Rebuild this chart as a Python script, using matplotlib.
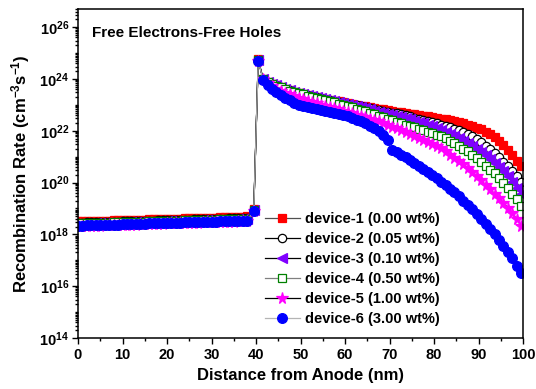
import numpy as np
import matplotlib
matplotlib.use('Agg')
import matplotlib.pyplot as plt
from matplotlib.ticker import FixedLocator, MultipleLocator, LogLocator, NullFormatter

plt.rcParams['font.family'] = ['Liberation Sans', 'DejaVu Sans']
plt.rcParams['font.weight'] = 'bold'
plt.rcParams['mathtext.fontset'] = 'custom'
plt.rcParams['mathtext.rm'] = 'Liberation Sans:bold'
plt.rcParams['mathtext.bf'] = 'Liberation Sans:bold'
plt.rcParams['mathtext.it'] = 'Liberation Sans:bold'
plt.rcParams['mathtext.default'] = 'regular'

labels = ['device-1 (0.00 wt%)', 'device-2 (0.05 wt%)', 'device-3 (0.10 wt%)',
          'device-4 (0.50 wt%)', 'device-5 (1.00 wt%)', 'device-6 (3.00 wt%)']

# distance grid (nm): flat part, the spike near the interface, then the decay
x_flat = np.arange(0, 39)
x_spike = [39.5, 40.5]
x_decay = np.arange(41.6, 100, 1.0)

# log10 of recombination rate
flat_d1 = [18.50, 18.50, 18.51, 18.51, 18.52, 18.52, 18.53, 18.53, 18.54, 18.54,
           18.55, 18.55, 18.56, 18.56, 18.57, 18.57, 18.58, 18.58, 18.59, 18.59,
           18.60, 18.60, 18.61, 18.61, 18.62, 18.62, 18.63, 18.63, 18.64, 18.64,
           18.65, 18.65, 18.66, 18.66, 18.67, 18.67, 18.68, 18.68, 18.69]
flat_d2 = [18.45, 18.45, 18.46, 18.46, 18.47, 18.47, 18.48, 18.48, 18.49, 18.49,
           18.50, 18.50, 18.51, 18.51, 18.52, 18.52, 18.53, 18.53, 18.54, 18.54,
           18.55, 18.55, 18.56, 18.56, 18.57, 18.57, 18.58, 18.58, 18.59, 18.59,
           18.60, 18.60, 18.61, 18.61, 18.62, 18.62, 18.63, 18.63, 18.64]
flat_d3 = [18.40, 18.40, 18.41, 18.41, 18.42, 18.42, 18.43, 18.43, 18.44, 18.44,
           18.45, 18.45, 18.46, 18.46, 18.47, 18.47, 18.48, 18.48, 18.49, 18.49,
           18.50, 18.50, 18.51, 18.51, 18.52, 18.52, 18.53, 18.53, 18.54, 18.54,
           18.55, 18.55, 18.56, 18.56, 18.57, 18.57, 18.58, 18.58, 18.59]
flat_d4 = [18.42, 18.42, 18.43, 18.43, 18.44, 18.44, 18.45, 18.45, 18.46, 18.46,
           18.47, 18.47, 18.48, 18.48, 18.49, 18.49, 18.50, 18.50, 18.51, 18.51,
           18.52, 18.52, 18.53, 18.53, 18.54, 18.54, 18.55, 18.55, 18.56, 18.56,
           18.57, 18.57, 18.58, 18.58, 18.59, 18.59, 18.60, 18.60, 18.61]
flat_d5 = [18.32, 18.32, 18.33, 18.33, 18.34, 18.34, 18.35, 18.35, 18.36, 18.36,
           18.37, 18.37, 18.38, 18.38, 18.39, 18.39, 18.40, 18.40, 18.41, 18.41,
           18.42, 18.42, 18.43, 18.43, 18.44, 18.44, 18.45, 18.45, 18.46, 18.46,
           18.47, 18.47, 18.48, 18.48, 18.49, 18.49, 18.50, 18.50, 18.51]
flat_d6 = [18.34, 18.34, 18.35, 18.35, 18.36, 18.36, 18.37, 18.37, 18.38, 18.38,
           18.39, 18.39, 18.40, 18.40, 18.41, 18.41, 18.42, 18.42, 18.43, 18.43,
           18.44, 18.44, 18.45, 18.45, 18.46, 18.46, 18.47, 18.47, 18.48, 18.48,
           18.49, 18.49, 18.50, 18.50, 18.51, 18.51, 18.52, 18.52, 18.53]

spike_d1 = [18.98, 24.76]
spike_d2 = [18.95, 24.73]
spike_d3 = [18.93, 24.72]
spike_d4 = [18.93, 24.72]
spike_d5 = [18.92, 24.71]
spike_d6 = [18.90, 24.70]

decay_d1 = [24.00, 23.90, 23.82, 23.75, 23.68, 23.62, 23.56, 23.51, 23.47, 23.43,
            23.39, 23.35, 23.31, 23.27, 23.23, 23.20, 23.16, 23.13, 23.10, 23.06,
            23.03, 23.00, 22.97, 22.94, 22.91, 22.88, 22.85, 22.82, 22.79, 22.76,
            22.74, 22.71, 22.68, 22.66, 22.63, 22.61, 22.58, 22.55, 22.53, 22.50,
            22.47, 22.44, 22.40, 22.36, 22.32, 22.28, 22.23, 22.18, 22.12, 22.05,
            21.96, 21.86, 21.74, 21.60, 21.44, 21.26, 21.06, 20.85, 20.62]
decay_d2 = [24.00, 23.90, 23.82, 23.75, 23.68, 23.62, 23.56, 23.51, 23.46, 23.42,
            23.38, 23.34, 23.30, 23.26, 23.22, 23.19, 23.15, 23.12, 23.08, 23.05,
            23.01, 22.98, 22.95, 22.91, 22.88, 22.85, 22.81, 22.78, 22.74, 22.70,
            22.67, 22.63, 22.59, 22.55, 22.51, 22.47, 22.42, 22.38, 22.33, 22.29,
            22.24, 22.19, 22.13, 22.07, 22.01, 21.94, 21.87, 21.78, 21.67, 21.55,
            21.42, 21.28, 21.13, 20.97, 20.80, 20.62, 20.43, 20.24, 20.04]
decay_d3 = [24.00, 23.90, 23.82, 23.75, 23.68, 23.62, 23.56, 23.51, 23.46, 23.42,
            23.38, 23.34, 23.30, 23.26, 23.22, 23.18, 23.14, 23.10, 23.06, 23.02,
            22.98, 22.94, 22.90, 22.86, 22.82, 22.78, 22.74, 22.70, 22.66, 22.62,
            22.57, 22.53, 22.48, 22.44, 22.39, 22.34, 22.29, 22.23, 22.17, 22.11,
            22.04, 21.97, 21.89, 21.81, 21.72, 21.62, 21.52, 21.42, 21.30, 21.18,
            21.05, 20.91, 20.76, 20.60, 20.43, 20.24, 20.03, 19.80, 19.55]
decay_d4 = [24.00, 23.90, 23.82, 23.74, 23.67, 23.61, 23.55, 23.50, 23.45, 23.40,
            23.36, 23.31, 23.27, 23.22, 23.18, 23.13, 23.09, 23.04, 23.00, 22.95,
            22.90, 22.85, 22.80, 22.75, 22.69, 22.64, 22.58, 22.52, 22.46, 22.40,
            22.35, 22.29, 22.24, 22.19, 22.14, 22.08, 22.03, 21.97, 21.91, 21.85,
            21.79, 21.71, 21.62, 21.52, 21.42, 21.31, 21.20, 21.08, 20.94, 20.80,
            20.65, 20.50, 20.35, 20.19, 19.98, 19.78, 19.57, 19.35, 19.10]
decay_d5 = [23.98, 23.85, 23.73, 23.63, 23.55, 23.47, 23.40, 23.33, 23.27, 23.21,
            23.16, 23.11, 23.06, 23.01, 22.96, 22.91, 22.86, 22.82, 22.77, 22.72,
            22.67, 22.62, 22.57, 22.52, 22.47, 22.41, 22.36, 22.30, 22.24, 22.16,
            22.09, 22.02, 21.95, 21.88, 21.81, 21.73, 21.66, 21.58, 21.50, 21.41,
            21.32, 21.20, 21.07, 20.95, 20.82, 20.70, 20.56, 20.41, 20.25, 20.08,
            19.91, 19.74, 19.57, 19.39, 19.21, 19.02, 18.81, 18.58, 18.33]
decay_d6 = [23.96, 23.78, 23.63, 23.50, 23.38, 23.27, 23.17, 23.08, 23.01, 22.96,
            22.92, 22.88, 22.84, 22.80, 22.77, 22.73, 22.69, 22.65, 22.60, 22.55,
            22.49, 22.43, 22.36, 22.28, 22.20, 22.11, 21.98, 21.82, 21.63, 21.27,
            21.17, 21.07, 20.97, 20.87, 20.76, 20.65, 20.54, 20.42, 20.30, 20.17,
            20.04, 19.91, 19.77, 19.63, 19.48, 19.30, 19.13, 18.96, 18.78, 18.59,
            18.40, 18.20, 18.00, 17.79, 17.57, 17.33, 17.07, 16.79, 16.49]

flats = [flat_d1, flat_d2, flat_d3, flat_d4, flat_d5, flat_d6]
spikes = [spike_d1, spike_d2, spike_d3, spike_d4, spike_d5, spike_d6]
decays = [decay_d1, decay_d2, decay_d3, decay_d4, decay_d5, decay_d6]

line_colors = ['#505050', 'black', 'black', '#808080', 'black', '#b4b4b4']
markers = ['s', 'o', '<', 's', '*', 'o']
face_colors = ['#ff0000', 'white', '#8000ff', 'white', '#ff00ff', '#0000ff']
edge_colors = ['#ff0000', 'black', '#8000ff', '#008000', '#ff00ff', '#0000ff']
msizes = [5.5, 6.0, 6.5, 5.5, 8.5, 7.0]

fig = plt.figure(figsize=(5.36, 3.89), dpi=100)
ax = fig.add_axes([78 / 536, 1 - 338 / 389, 445 / 536, 329 / 389])

xx = np.concatenate([x_flat, x_spike, x_decay])
for i in range(6):
    yy = 10 ** np.concatenate([flats[i], spikes[i], decays[i]])
    ax.plot(xx, yy, color=line_colors[i], lw=0.9, marker=markers[i],
            ms=msizes[i], mfc=face_colors[i], mec=edge_colors[i], mew=0.9,
            label=labels[i])

ax.set_yscale('log')
ax.set_xlim(0, 100)
ax.set_ylim(1e14, 5e26)

ax.xaxis.set_major_locator(MultipleLocator(10))
ax.xaxis.set_minor_locator(MultipleLocator(5))
yt = [1e14, 1e16, 1e18, 1e20, 1e22, 1e24, 1e26]
ax.yaxis.set_major_locator(FixedLocator(yt))
ax.set_yticklabels([r'$10^{%d}$' % int(np.log10(v)) for v in yt])
ax.yaxis.set_minor_locator(LogLocator(base=10, subs=np.arange(1, 10), numticks=40))
ax.yaxis.set_minor_formatter(NullFormatter())

ax.tick_params(which='both', direction='out', top=False, right=False, width=1.0)
ax.tick_params(which='major', length=4.5)
ax.tick_params(which='minor', length=2.5)
ax.tick_params(axis='x', labelsize=10.5, pad=3)
ax.tick_params(axis='y', labelsize=10.5, pad=2)
for sp in ax.spines.values():
    sp.set_linewidth(1.1)

ax.set_xlabel('Distance from Anode (nm)', fontsize=12, fontweight='bold', labelpad=4)
ax.set_ylabel('Recombination Rate (cm$^{-3}$s$^{-1}$)', fontsize=12,
              fontweight='bold', labelpad=5)

ax.text(0.031, 0.927, 'Free Electrons-Free Holes', transform=ax.transAxes,
        fontsize=11, fontweight='bold', va='center', ha='left')

leg = ax.legend(loc='upper left', bbox_to_anchor=(0.42, 0.384), frameon=False,
                fontsize=10.5, handlelength=2.4, handletextpad=0.35,
                labelspacing=0.42, borderpad=0, borderaxespad=0)
for t in leg.get_texts():
    t.set_fontweight('bold')

fig.savefig('out.png', dpi=100)
